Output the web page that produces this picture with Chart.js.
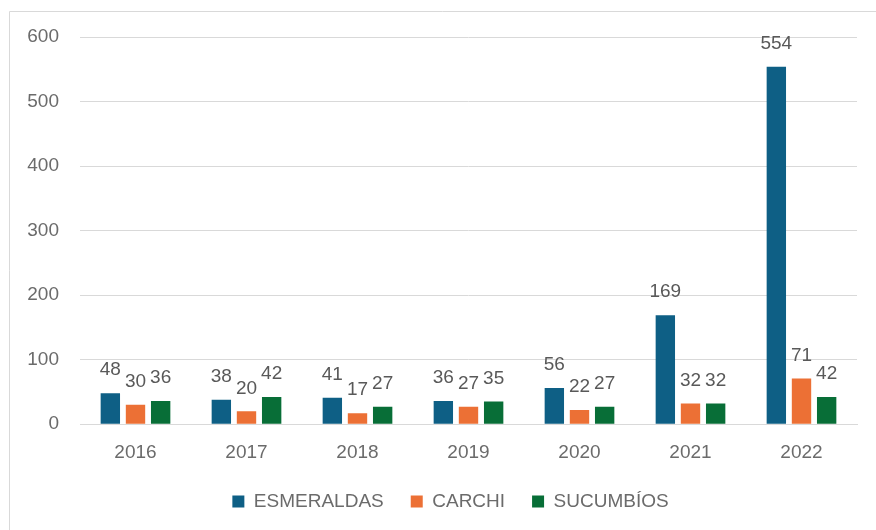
<!DOCTYPE html>
<html>
<head>
<meta charset="utf-8">
<script src="https://cdn.jsdelivr.net/npm/chart.js@4"></script>
<style>
  html, body { margin: 0; padding: 0; background: #fff; overflow: hidden; }
  #wrap { position: absolute; left: 0; top: 0; width: 876px; height: 530px; }
</style>
</head>
<body>
<div id="wrap"><canvas id="chart" width="876" height="530"></canvas></div>
<script>
/* ========= DATA ========= */
const years = ['2016', '2017', '2018', '2019', '2020', '2021', '2022'];
const esmeraldas = [48, 38, 41, 36, 56, 169, 554];
const carchi = [30, 20, 17, 27, 22, 32, 71];
const sucumbios = [36, 42, 27, 35, 27, 32, 42];
const yTicks = [0, 100, 200, 300, 400, 500, 600];

const FONT = "'Liberation Sans', Arial, sans-serif";
const TEXT = '#6b6b6b';
const GRID = '#d9d9d9';

// frame around the chart, cropped on the right and bottom like the picture
const framePlugin = {
  id: 'frame',
  beforeDraw(chart) {
    const c = chart.ctx;
    c.save();
    c.strokeStyle = GRID;
    c.lineWidth = 1;
    c.beginPath();
    c.moveTo(9.5, 530);
    c.lineTo(9.5, 11.5);
    c.lineTo(876, 11.5);
    c.stroke();
    c.restore();
  }
};

// legend in the picture is centred on the whole frame, not the padded box
const legendShift = {
  id: 'legendShift',
  afterLayout(chart) {
    if (chart.legend) {
      chart.legend.left += 22;
      chart.legend.right += 22;
    }
  }
};

// value labels above the bars
const labelPlugin = {
  id: 'valueLabels',
  afterDatasetsDraw(chart) {
    const c = chart.ctx;
    c.save();
    c.font = '19px ' + FONT;
    c.fillStyle = '#595959';
    c.textAlign = 'center';
    c.textBaseline = 'middle';
    chart.data.datasets.forEach((ds, i) => {
      chart.getDatasetMeta(i).data.forEach((bar, j) => {
        c.fillText(String(ds.data[j]), bar.x, bar.y - 23);
      });
    });
    c.restore();
  }
};

new Chart(document.getElementById('chart'), {
  type: 'bar',
  data: {
    labels: years,
    datasets: [
      { label: 'ESMERALDAS', data: esmeraldas, backgroundColor: '#0E5F85' },
      { label: 'CARCHI', data: carchi, backgroundColor: '#EC7035' },
      { label: 'SUCUMBÍOS', data: sucumbios, backgroundColor: '#086E37' }
    ]
  },
  options: {
    responsive: false,
    animation: false,
    devicePixelRatio: 1,
    categoryPercentage: 0.68,
    barPercentage: 0.77,
    layout: { padding: { left: 0, right: 19, top: 37, bottom: 9 } },
    plugins: {
      tooltip: { enabled: false },
      legend: {
        position: 'bottom',
        labels: {
          color: TEXT,
          font: { family: FONT, size: 19 },
          boxWidth: 12,
          boxHeight: 12,
          padding: 27
        }
      }
    },
    scales: {
      x: {
        afterFit: s => { s.height -= 16; },
        grid: { display: false, drawTicks: false },
        border: { display: true, color: GRID },
        ticks: { color: TEXT, font: { family: FONT, size: 19 }, padding: 17 }
      },
      y: {
        min: 0,
        max: 600,
        afterBuildTicks: s => { s.ticks = yTicks.map(v => ({ value: v })); },
        afterFit: s => { s.width = 80; },
        grid: { color: GRID, drawTicks: false },
        border: { display: false },
        ticks: { color: TEXT, font: { family: FONT, size: 19 }, padding: 21 }
      }
    }
  },
  plugins: [framePlugin, legendShift, labelPlugin]
});
</script>
</body>
</html>
